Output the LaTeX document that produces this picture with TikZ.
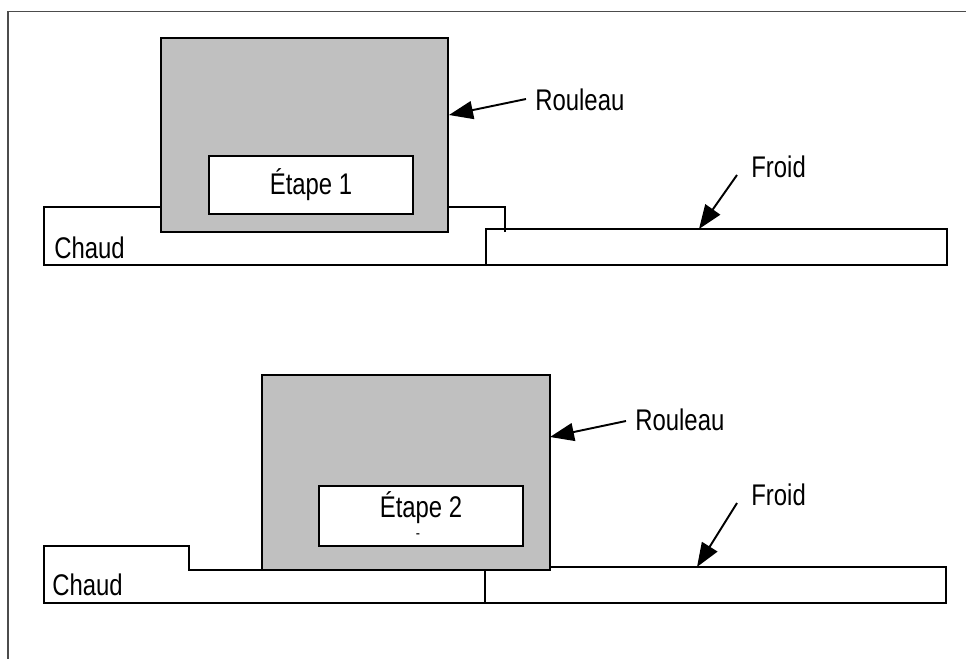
\documentclass[tikz,border=0pt]{standalone}
\usepackage{fontspec}
\setmainfont{Liberation Sans}[FakeStretch=0.8]
\usetikzlibrary{arrows.meta,positioning}

\tikzset{
  band/.style={line width=1.1pt,line join=miter},
  rouleau/.style={band,fill=rollgray},
  etape/.style={band,fill=white},
  lbl/.style={anchor=west,inner sep=0pt,font=\fontsize{17}{20}\selectfont},
  fleche/.style={line width=1.1pt,-{Triangle[length=0.48cm,width=0.36cm]}}
}
\definecolor{rollgray}{RGB}{192,192,192}

\begin{document}
\begin{tikzpicture}[x=0.02cm,y=-0.02cm]
            \useasboundingbox (0,0) rectangle (966,659);
            \draw [gray!60!black,line width=0.7pt](966,11.5) -- (8,11.5) -- (8,659);

            % etape 1
            \draw [band](505,232) -- (505,207) -- (44,207) -- (44,265) -- (486,265);
            \draw [band](486,229) rectangle (947,265);
            \draw [rouleau](161,38) rectangle (448,232);
            \draw [etape](209,156) rectangle (413,214);
            \node [lbl,anchor=center] (et1) at (311,185) {Étape 1};
            \node [lbl] (chaud1) at (54,248) {Chaud};
            \node [lbl] (roul1) at (535,100) {Rouleau};
            \node [lbl] (froid1) at (751,167) {Froid};
            \coordinate (r1s) at (526,99);
            \coordinate (r1) at (449,115);
            \coordinate (f1s) at (737,175);
            \coordinate (f1) at (699,229);
            \draw [fleche](r1s) -- (r1);
            \draw [fleche](f1s) -- (f1);

            % etape 2
            \draw [band](262,570) -- (189,570) -- (189,546) -- (44,546) -- (44,603) -- (946,603) -- (946,567) -- (550,567);
            \draw [band](485,570) -- (485,603);
            \draw [rouleau](262,375) rectangle (550,570);
            \draw [etape](319,486) rectangle (523,546);
            \node [lbl,anchor=center] (et2) at (421,508) {Étape 2};
            \node [lbl,anchor=center,font=\small] (tiret) at (418,536) {-};
            \node [lbl] (chaud2) at (52,585) {Chaud};
            \node [lbl] (roul2) at (635,420) {Rouleau};
            \node [lbl] (froid2) at (751,495) {Froid};
            \coordinate (r2s) at (626,421);
            \coordinate (r2) at (550,437);
            \coordinate (f2s) at (737,503);
            \coordinate (f2) at (697,567);
            \draw [fleche](r2s) -- (r2);
            \draw [fleche](f2s) -- (f2);
        \end{tikzpicture}
\end{document}
